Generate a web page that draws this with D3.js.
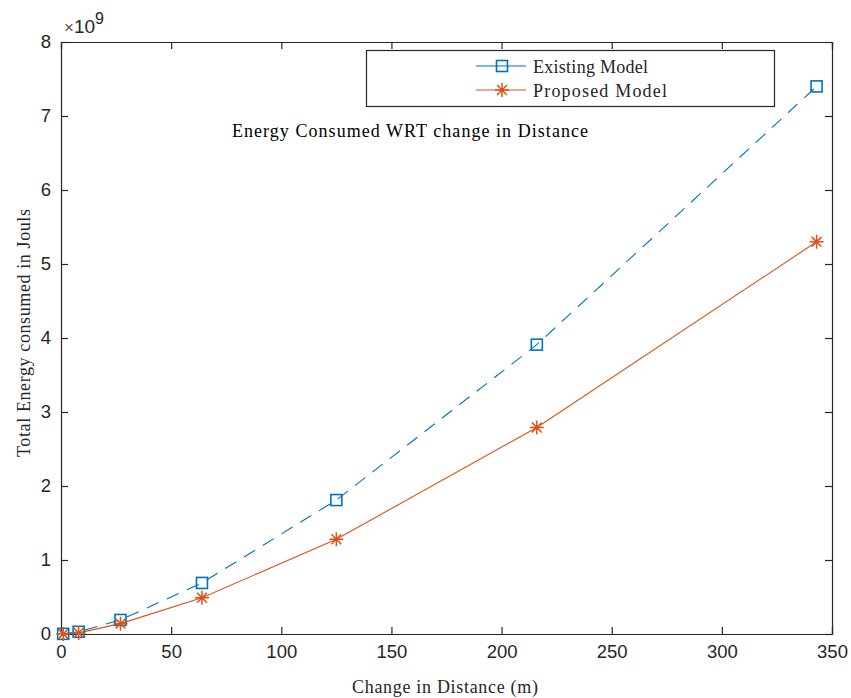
<!DOCTYPE html>
<html><head><meta charset="utf-8">
<script src="https://cdn.jsdelivr.net/npm/d3@7"></script>
<style>body{margin:0;background:#fff}svg{display:block}</style>
</head><body>
<svg id="c" width="851" height="698"></svg>
<script>
const distances = [1, 8, 27, 64, 125, 216, 343];
const existingModel = [0.002, 0.03, 0.19, 0.69, 1.81, 3.91, 7.40];
const proposedModel = [0.001, 0.015, 0.14, 0.49, 1.28, 2.79, 5.30];
const xTicks = [0, 50, 100, 150, 200, 250, 300, 350];
const yTicks = [0, 1, 2, 3, 4, 5, 6, 7, 8];
const seriesNames = ["Existing Model", "Proposed Model"];

const svg = d3.select("#c");
const L = 61, R = 832, T = 42, B = 634;
const x = d3.scaleLinear().domain([0, 350]).range([L, R]);
const y = d3.scaleLinear().domain([0, 8]).range([B, T]);
const axisCol = "#262626";
const tickFont = "'Liberation Sans', Arial, sans-serif";
const serif = "'Liberation Serif', 'Times New Roman', serif";

// axes
const gx = svg.append("g").attr("transform", `translate(0,${B})`)
  .call(d3.axisBottom(x).tickValues(xTicks).tickSize(-7).tickPadding(11).tickFormat(d3.format("d")));
const gxt = svg.append("g").attr("transform", `translate(0,${T})`)
  .call(d3.axisTop(x).tickValues(xTicks).tickSize(-7).tickFormat(""));
const gy = svg.append("g").attr("transform", `translate(${L},0)`)
  .call(d3.axisLeft(y).tickValues(yTicks).tickSize(-7).tickPadding(10).tickFormat(d3.format("d")));
const gyr = svg.append("g").attr("transform", `translate(${R},0)`)
  .call(d3.axisRight(y).tickValues(yTicks).tickSize(-7).tickFormat(""));
[gx, gxt, gy, gyr].forEach(g => {
  g.select(".domain").attr("stroke", axisCol).attr("stroke-width", 1.2);
  g.selectAll(".tick line").attr("stroke", axisCol).attr("stroke-width", 1.2);
  g.selectAll(".tick text").attr("fill", axisCol).attr("font-family", tickFont).attr("font-size", 18.5);
});
gx.selectAll(".tick text").attr("dy", "0.71em");

// exponent
const ex = svg.append("text").attr("x", 64).attr("y", 33).attr("fill", axisCol)
  .attr("font-family", tickFont).attr("font-size", 19);
ex.append("tspan").attr("font-size", 17).attr("fill", "#555").text("\u00d7");
ex.append("tspan").text("10");
ex.append("tspan").attr("dy", -9).attr("font-size", 16).text("9");

function serifText(txt, xx, yy, len, size, anchor, col) {
  return svg.append("text").attr("x", xx).attr("y", yy).attr("text-anchor", anchor || "start")
    .attr("font-family", serif).attr("font-size", size).attr("fill", col || axisCol)
    .attr("textLength", len).attr("lengthAdjust", "spacing").text(txt);
}

// labels
serifText("Change in Distance (m)", 445, 693, 186, 18, "middle");
svg.append("text").attr("transform", `translate(30,333) rotate(-90)`).attr("text-anchor", "middle")
  .attr("font-family", serif).attr("font-size", 18).attr("fill", axisCol)
  .attr("textLength", 248).attr("lengthAdjust", "spacing").text("Total Energy consumed in Jouls");
serifText("Energy Consumed WRT change in Distance", 410, 137, 356, 18, "middle", "#000");

const blue = "#0072BD", orange = "#D95319";
const line = d3.line().x((d, i) => x(distances[i])).y(d => y(d));

svg.append("path").datum(existingModel).attr("d", line).attr("fill", "none")
  .attr("stroke", blue).attr("stroke-width", 1.1).attr("stroke-dasharray", "13,9");
svg.append("path").datum(proposedModel).attr("d", line).attr("fill", "none")
  .attr("stroke", orange).attr("stroke-width", 1.1);

function square(g, cx, cy) {
  g.append("rect").attr("x", cx - 5.5).attr("y", cy - 5.5).attr("width", 11).attr("height", 11)
    .attr("fill", "none").attr("stroke", blue).attr("stroke-width", 1.6);
}
function star(g, cx, cy) {
  const r = 7;
  const p = d3.path();
  for (let k = 0; k < 4; k++) {
    const a = k * Math.PI / 4;
    p.moveTo(cx - r * Math.cos(a), cy - r * Math.sin(a));
    p.lineTo(cx + r * Math.cos(a), cy + r * Math.sin(a));
  }
  g.append("path").attr("d", p.toString()).attr("stroke", orange).attr("stroke-width", 1.5).attr("fill", "none");
}
const gm = svg.append("g");
existingModel.forEach((v, i) => square(gm, x(distances[i]), y(v)));
proposedModel.forEach((v, i) => star(gm, x(distances[i]), y(v)));

// legend
const lg = svg.append("g");
lg.append("rect").attr("x", 366.5).attr("y", 50.5).attr("width", 408).attr("height", 56)
  .attr("fill", "#fff").attr("stroke", axisCol).attr("stroke-width", 1.2);
const rows = [66, 90];
const legLens = [115, 134];
seriesNames.forEach((name, i) => {
  const col = i === 0 ? blue : orange;
  lg.append("line").attr("x1", 476).attr("x2", 526).attr("y1", rows[i]).attr("y2", rows[i])
    .attr("stroke", col).attr("stroke-width", 1.1);
  if (i === 0) square(lg, 502, rows[i]); else star(lg, 502, rows[i]);
  lg.append("text").attr("x", 533).attr("y", rows[i] + 6.5).attr("font-family", serif)
    .attr("font-size", 18).attr("fill", axisCol)
    .attr("textLength", legLens[i]).attr("lengthAdjust", "spacing").text(name);
});
</script>
</body></html>
